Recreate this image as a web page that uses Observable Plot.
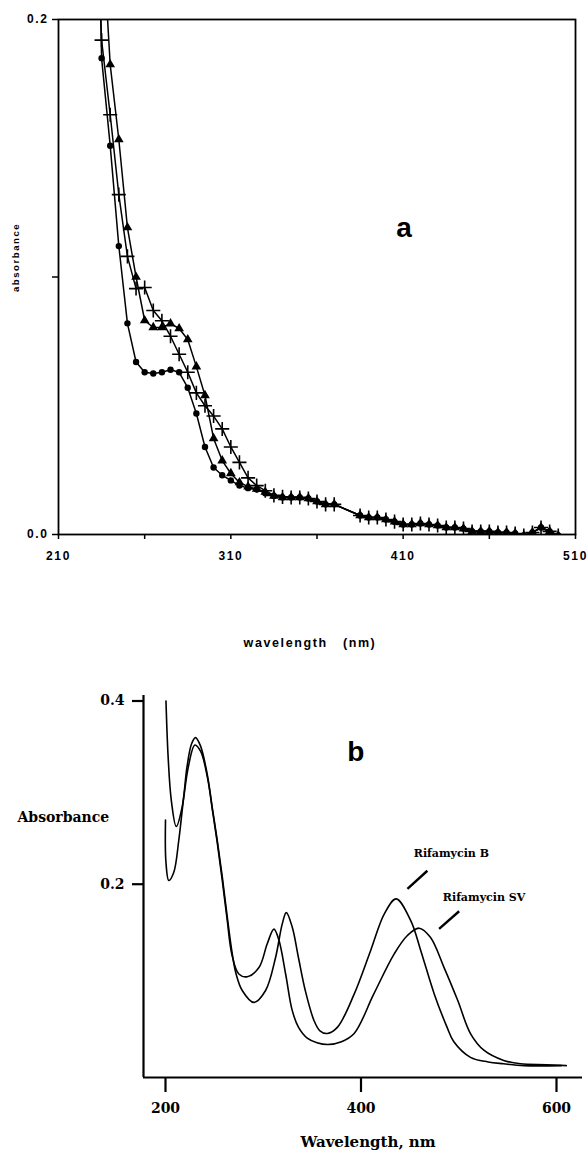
<!DOCTYPE html>
<html><head><meta charset="utf-8">
<script src="https://cdn.jsdelivr.net/npm/d3@7"></script>
<script src="https://cdn.jsdelivr.net/npm/@observablehq/plot@0.6"></script>
<style>
html,body{margin:0;padding:0;background:#fff;}
svg{display:block;}
.pa text{letter-spacing:1.6px;}
</style></head><body>
<script>
// ===== Panel a data =====
const wavelengthA = [230,235,240,245,250,255,260,265,270,275,280,285,290,295,300,305,310,315,320,325,330,335,340,345,350,355,360,365,370,385,390,395,400,405,410,415,420,425,430,435,440,445,450,455,460,465,470,475,480,485,490,495,500];
const absCircle = [0.37,0.185,0.151,0.112,0.082,0.067,0.063,0.0625,0.063,0.064,0.063,0.057,0.047,0.034,0.026,0.023,0.021,0.019,0.018,0.0175,0.016,0.015,0.0144,0.0144,0.0144,0.014,0.0128,0.0117,0.0117,0.0074,0.0066,0.0066,0.0058,0.0050,0.0039,0.0039,0.0043,0.0039,0.0035,0.0027,0.0027,0.0023,0.0012,0.0012,0.0012,0.0008,0.0008,0.0004,-0.0004,0.0008,0.0027,0.0012,-0.0004];
const absTriangle = [null,0.24,0.1825,0.1534,0.1192,0.100,0.0831,0.0804,0.0804,0.0819,0.0800,0.0757,0.0652,0.054,0.0373,0.0287,0.0237,0.0202,0.0186,0.0177,0.0165,0.0150,0.0144,0.0144,0.0144,0.014,0.0128,0.0117,0.0117,0.0074,0.0066,0.0066,0.0058,0.0050,0.0039,0.0039,0.0043,0.0039,0.0035,0.0027,0.0027,0.0023,0.0012,0.0012,0.0012,0.0008,0.0008,0.0004,-0.0004,0.0008,0.0027,0.0012,-0.0004];
const absPlus = [0.27,0.192,0.163,0.132,0.108,0.0955,0.0959,0.087,0.083,0.077,0.070,0.063,0.055,0.050,0.046,0.041,0.034,0.028,0.022,0.019,0.017,0.0152,0.0146,0.0144,0.0144,0.014,0.0128,0.0117,0.0117,0.0074,0.0066,0.0066,0.0058,0.0050,0.0039,0.0039,0.0043,0.0039,0.0035,0.0027,0.0027,0.0023,0.0012,0.0012,0.0012,0.0008,0.0008,0.0004,-0.0004,0.0008,0.0027,0.0012,-0.0004];
const xTicksA = [210,260,310,360,410,460,510];
const xTickLabelsA = [210,310,410,510];
const yTicksA = [0,0.1,0.2];
const yTickLabelsA = [0,0.2];
const xTitleA = "wavelength   (nm)";
const yTitleA = "absorbance";
const panelLabelA = "a";
const panelLabelPosA = [411, 0.119];
const yTitlePosA = 0.1076;

// ===== Panel b data =====
const wlRifB = [200.5,202.7,206,211,217,222,226.6,230.7,235.8,242.7,247.8,252.9,258.1,263.2,268.3,272,278.5,290.4,302.4,312.6,319.5,323.6,329.7,336,343,352,358,365.6,376,393,410,424,436,451,461,475,488,495,512,530,546,567,605];
const absRifB = [0.400,0.339,0.291,0.263,0.284,0.328,0.353,0.360,0.351,0.320,0.284,0.248,0.208,0.164,0.124,0.103,0.084,0.071,0.084,0.120,0.157,0.169,0.153,0.120,0.084,0.051,0.040,0.037,0.044,0.080,0.128,0.168,0.184,0.160,0.128,0.080,0.044,0.028,0.011,0.006,0.004,0.002,0.002];
const wlRifSV = [200,200.4,203.4,208.5,213.6,218.7,223.9,230,236,243,248,253,258,263,268,275,283.7,295.6,304.1,310.9,316,322.9,329.7,336,345,355,366,380,393,413,434,447.5,459.5,471,485,499,512,526,546,563,590,610];
const absRifSV = [0.270,0.225,0.204,0.213,0.248,0.295,0.331,0.352,0.345,0.316,0.281,0.245,0.205,0.162,0.123,0.102,0.099,0.109,0.135,0.151,0.139,0.102,0.062,0.044,0.032,0.027,0.025,0.028,0.037,0.080,0.124,0.144,0.152,0.142,0.109,0.073,0.037,0.0185,0.0076,0.004,0.003,0.002];
const xDomainB = [177.5, 626.6];
const yDomainB = [-0.011, 0.406];
const xTicksB = [200,400,600];
const yTicksB = [0.2,0.4];
const xTitleB = "Wavelength, nm";
const yTitleB = "Absorbance";
const yTitlePosB = 0.273;
const panelLabelB = "b";
const panelLabelPosB = [394.6, 0.344];
const seriesNames = ["Rifamycin B", "Rifamycin SV"];
const seriesLabelX = [454, 483.7];
const seriesLabelY = [0.2335, 0.1855];
const leaderX1 = [447.5, 479.9], leaderY1 = [0.195, 0.1513];
const leaderX2 = [467.9, 500.4], leaderY2 = [0.2147, 0.1705];

// ===== helpers =====
const rows = (ws, vs) => ws.map((w, i) => ({w, v: vs[i]})).filter(d => d.v != null);
const circ = rows(wavelengthA, absCircle);
const tri = rows(wavelengthA, absTriangle);
const plus = rows(wavelengthA, absPlus);

const sansA = "'Liberation Sans', Arial, Helvetica, sans-serif";
const serifB = "'DejaVu Serif', 'Liberation Serif', serif";

const plotA = Plot.plot({
  width: 588, height: 680,
  marginLeft: 58, marginRight: 13, marginTop: 19, marginBottom: 146,
  className: "pa",
  style: {fontFamily: sansA, fontWeight: "bold", fontSize: "12px", color: "#000", background: "#fff"},
  x: {domain: [210, 510]},
  y: {domain: [0, 0.2]},
  marks: [
    Plot.frame({stroke: "#000", strokeWidth: 1.8}),
    Plot.axisX({ticks: xTicksA, tickSize: 5, tickPadding: 12, strokeWidth: 1.5,
      tickFormat: d => xTickLabelsA.includes(d) ? String(d) : "", label: null}),
    Plot.axisY({ticks: yTicksA, tickSize: 6, tickPadding: 4, strokeWidth: 1.5,
      tickFormat: d => yTickLabelsA.includes(d) ? d.toFixed(1) : "", label: null}),
    Plot.line(circ, {x: "w", y: "v", stroke: "#000", strokeWidth: 1.5, clip: true}),
    Plot.line(tri, {x: "w", y: "v", stroke: "#000", strokeWidth: 1.5, clip: true}),
    Plot.line(plus, {x: "w", y: "v", stroke: "#000", strokeWidth: 1.5, clip: true}),
    Plot.dot(circ, {x: "w", y: "v", r: 3.2, fill: "#000", symbol: "circle", clip: true}),
    Plot.dot(tri, {x: "w", y: "v", r: 3.6, fill: "#000", symbol: "triangle", clip: true}),
    Plot.dot(plus, {x: "w", y: "v", r: 4.6, stroke: "#000", strokeWidth: 1.6, symbol: "plus", clip: true}),
    Plot.text([yTitleA], {text: d => d, y: () => yTitlePosA, frameAnchor: "left", textAnchor: "middle", lineAnchor: "middle", dx: -43, rotate: -90, fontSize: 9.5}),
    Plot.text([xTitleA], {text: d => d, frameAnchor: "bottom", textAnchor: "middle", lineAnchor: "middle", dx: -7, dy: 108, fontSize: 12.5}),
    Plot.text([panelLabelA], {text: d => d, x: () => panelLabelPosA[0], y: () => panelLabelPosA[1], fontSize: 28})
  ]
});
document.body.appendChild(plotA);

const dataB = rows(wlRifB, absRifB);
const dataSV = rows(wlRifSV, absRifSV);
const labels = seriesNames.map((n, i) => ({n, x: seriesLabelX[i], y: seriesLabelY[i]}));
const leaders = leaderX1.map((x1, i) => ({x1, y1: leaderY1[i], x2: leaderX2[i], y2: leaderY2[i]}));

const plotB = Plot.plot({
  width: 588, height: 475,
  marginLeft: 143, marginRight: 6, marginTop: 15, marginBottom: 78,
  style: {fontFamily: serifB, fontWeight: "bold", fontSize: "14px", color: "#000", background: "#fff"},
  x: {domain: xDomainB},
  y: {domain: yDomainB},
  marks: [
    Plot.ruleX([xDomainB[0]], {stroke: "#000", strokeWidth: 2.2}),
    Plot.ruleY([yDomainB[0]], {stroke: "#000", strokeWidth: 2.2}),
    Plot.axisX({ticks: xTicksB, tickSize: 15, tickPadding: 11, strokeWidth: 2.2, tickFormat: d => String(d), label: null}),
    Plot.axisY({ticks: yTicksB, tickSize: 11, tickPadding: 8, strokeWidth: 2.2, tickFormat: d => d.toFixed(1), label: null}),
    Plot.line(dataB, {x: "w", y: "v", stroke: "#000", strokeWidth: 1.6, curve: "catmull-rom"}),
    Plot.line(dataSV, {x: "w", y: "v", stroke: "#000", strokeWidth: 1.6, curve: "catmull-rom"}),
    Plot.link(leaders, {x1: "x1", y1: "y1", x2: "x2", y2: "y2", stroke: "#000", strokeWidth: 2.4}),
    Plot.text(labels, {x: "x", y: "y", text: "n", textAnchor: "start", fontSize: 11}),
    Plot.text([yTitleB], {text: d => d, y: () => yTitlePosB, frameAnchor: "left", dx: -126, textAnchor: "start", lineAnchor: "middle", fontSize: 14}),
    Plot.text([xTitleB], {text: d => d, frameAnchor: "bottom", textAnchor: "middle", lineAnchor: "middle", dx: 5, dy: 65, fontSize: 15}),
    Plot.text([panelLabelB], {text: d => d, x: () => panelLabelPosB[0], y: () => panelLabelPosB[1], fontSize: 28, fontFamily: sansA})
  ]
});
document.body.appendChild(plotB);
</script>
</body></html>
